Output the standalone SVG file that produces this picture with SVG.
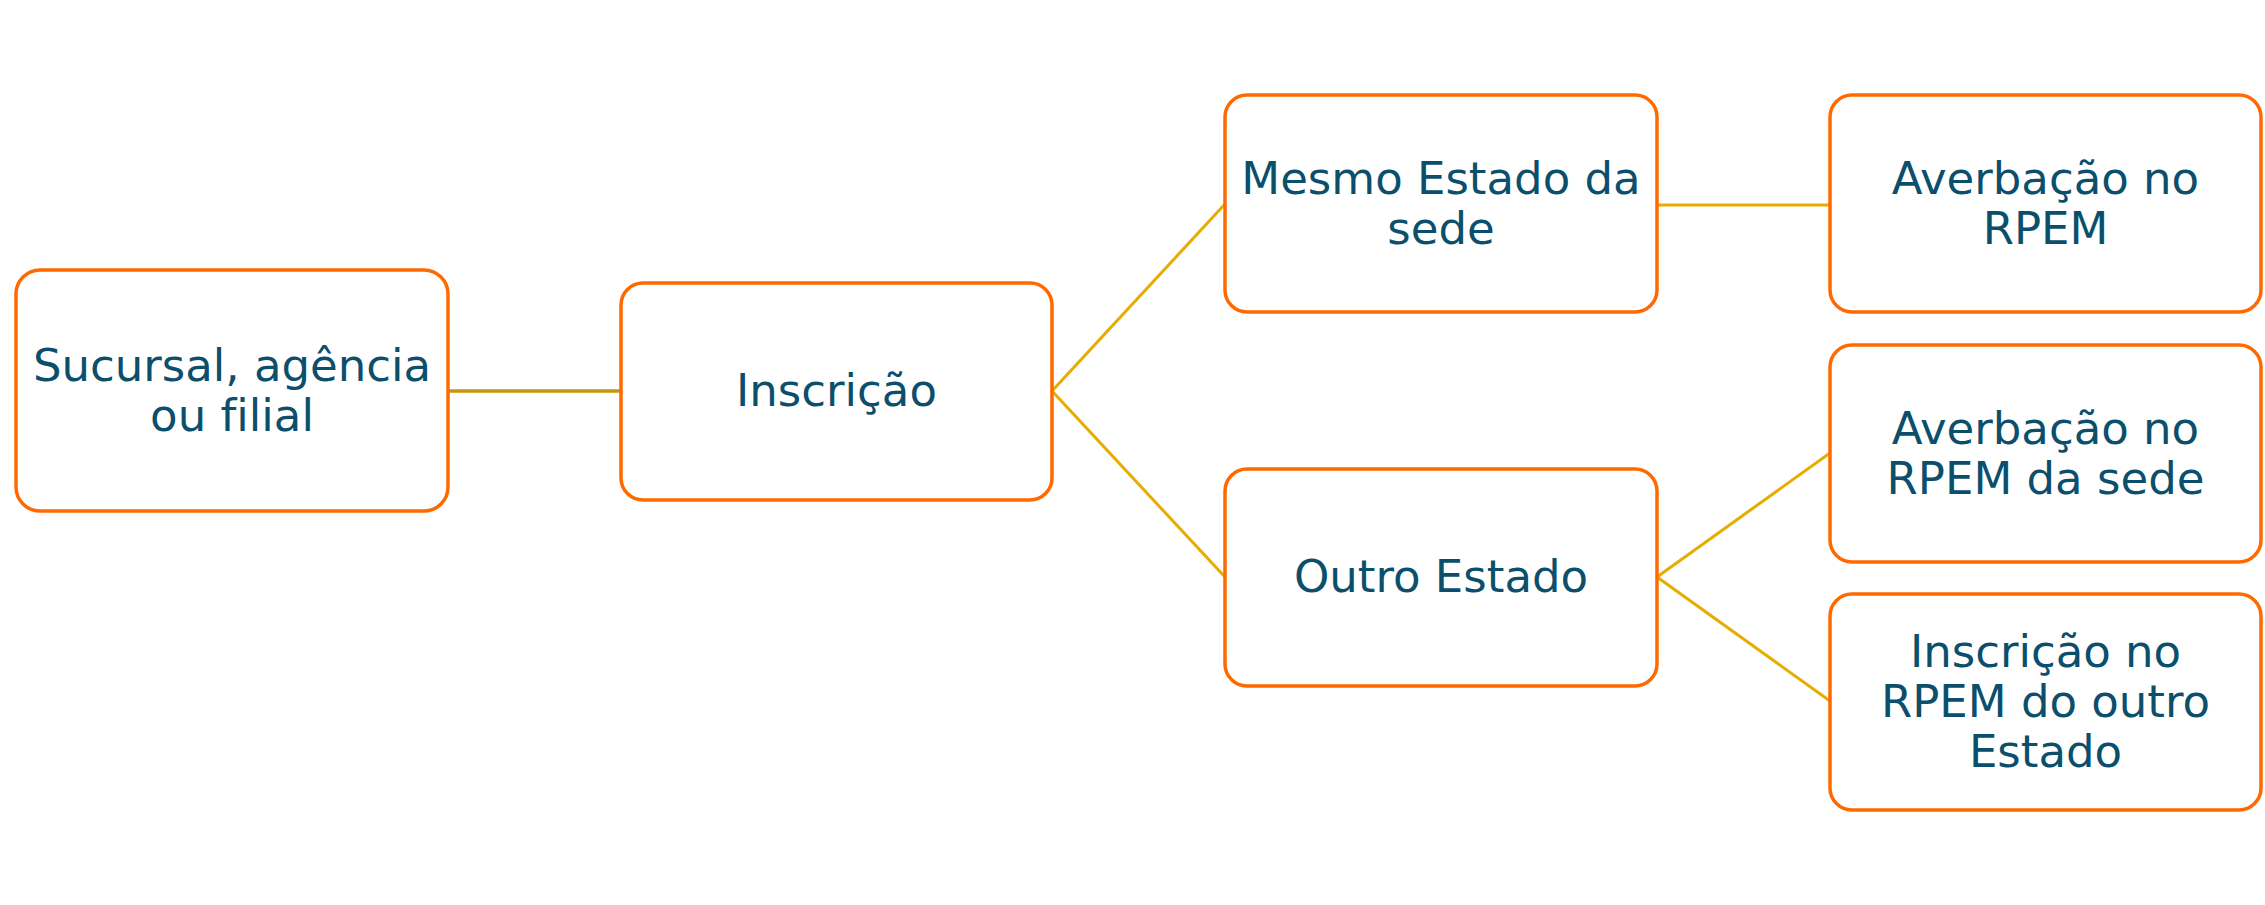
<svg xmlns="http://www.w3.org/2000/svg" width="2265" height="905" viewBox="0 0 2265 905">
<style>
.box{fill:#FFFFFF;stroke:#FF6A00;stroke-width:3.5}
.lbl{font-family:"DejaVu Sans",Verdana,sans-serif;font-size:45px;fill:#0B4F6C;text-anchor:middle;font-variant-ligatures:none}
.c1{stroke:#C8960A;stroke-width:3.5;fill:none}
.c2{stroke:#E6AC00;stroke-width:3;fill:none}
</style>
<rect width="2265" height="905" fill="#FFFFFF"/>
<g id="connectors">
<line class="c1" x1="448" y1="391" x2="621" y2="391"/>
<line class="c2" x1="1052" y1="391" x2="1225" y2="204"/>
<line class="c2" x1="1052" y1="391" x2="1225" y2="577"/>
<line class="c2" x1="1657" y1="205" x2="1830" y2="205"/>
<line class="c2" x1="1657" y1="577" x2="1830" y2="453"/>
<line class="c2" x1="1657" y1="577" x2="1830" y2="701"/>
</g>
<g id="n1">
<rect class="box" x="16" y="270" width="432" height="241" rx="24"/>
<text class="lbl" x="232" y="381">Sucursal, agência</text>
<text class="lbl" x="232" y="431">ou filial</text>
</g>
<g id="n2">
<rect class="box" x="621" y="283" width="431" height="217" rx="22"/>
<text class="lbl" x="836.5" y="406">Inscrição</text>
</g>
<g id="n3">
<rect class="box" x="1225" y="95" width="432" height="217" rx="22"/>
<text class="lbl" x="1441" y="194">Mesmo Estado da</text>
<text class="lbl" x="1441" y="244">sede</text>
</g>
<g id="n4">
<rect class="box" x="1225" y="469" width="432" height="217" rx="22"/>
<text class="lbl" x="1441" y="592">Outro Estado</text>
</g>
<g id="n5">
<rect class="box" x="1830" y="95" width="431" height="217" rx="22"/>
<text class="lbl" x="2045.5" y="194">Averbação no</text>
<text class="lbl" x="2045.5" y="244">RPEM</text>
</g>
<g id="n6">
<rect class="box" x="1830" y="345" width="431" height="217" rx="22"/>
<text class="lbl" x="2045.5" y="444">Averbação no</text>
<text class="lbl" x="2045.5" y="494">RPEM da sede</text>
</g>
<g id="n7">
<rect class="box" x="1830" y="594" width="431" height="216" rx="22"/>
<text class="lbl" x="2045.5" y="667">Inscrição no</text>
<text class="lbl" x="2045.5" y="717">RPEM do outro</text>
<text class="lbl" x="2045.5" y="767">Estado</text>
</g>
</svg>
